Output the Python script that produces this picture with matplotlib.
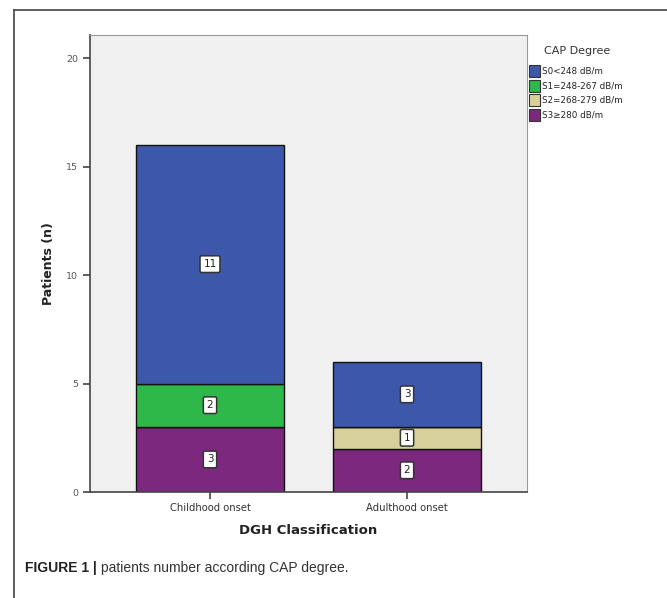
import matplotlib
matplotlib.use("Agg")
import matplotlib.pyplot as plt
from matplotlib.patches import Rectangle
from matplotlib.lines import Line2D

# ── data ─────────────────────────────────────────────────────────────────────
groups = ["Childhood onset", "Adulthood onset"]
degrees = ["S0<248 dB/m", "S1=248-267 dB/m", "S2=268-279 dB/m", "S3\u2265280 dB/m"]
s0 = [11, 3]
s1 = [2, 0]
s2 = [0, 1]
s3 = [3, 2]
yticks = [0, 5, 10, 15, 20]

# SPSS-like palette
COLORS = {"S0": "#3D58AB", "S1": "#2EB84A", "S2": "#D6D19A", "S3": "#7B287E"}
PLOT_BG = "#F0F0F0"
TXT = "#333333"

W, H = 667, 598
fig = plt.figure(figsize=(W / 100, H / 100), dpi=100)


def px(x, y):
    """pixel (from top-left) -> figure fraction"""
    return x / W, 1 - y / H


# outer frame (left + top)
fig.add_artist(Line2D([14 / W, 14 / W], [0, 1 - 10 / H], color="#444", lw=1.2))
fig.add_artist(Line2D([14 / W, 1], [1 - 10 / H, 1 - 10 / H], color="#444", lw=1.2))

# axes: plot area 90..527 x, 35..492 y
ax = fig.add_axes([90 / W, 1 - 492 / H, (527 - 90) / W, (492 - 35) / H])
ax.set_facecolor(PLOT_BG)

xs = list(range(len(groups)))
width = 0.75
stack = [("S3", s3), ("S2", s2), ("S1", s1), ("S0", s0)]
bottom = [0] * len(groups)
for key, vals in stack:
    ax.bar(xs, vals, width, bottom=bottom, color=COLORS[key],
           edgecolor="#111111", linewidth=1.0, zorder=2)
    for i, v in enumerate(vals):
        if v > 0:
            ax.text(xs[i], bottom[i] + v / 2, str(v), ha="center", va="center",
                    fontsize=7.5, color="#222", zorder=4,
                    bbox=dict(boxstyle="round,pad=0.32,rounding_size=0.15",
                              fc="white", ec="#333", lw=1.1))
    bottom = [b + v for b, v in zip(bottom, vals)]

ax.set_xlim(-0.609, 1.609)
ax.set_ylim(0, 21.06)
ax.set_yticks(yticks)
ax.set_xticks(xs)
ax.set_xticklabels(groups)
ax.tick_params(axis="both", direction="out", length=5, width=1.2,
               colors="#444", labelsize=6.8, labelcolor="#555")
ax.tick_params(axis="x", pad=3, labelcolor="#333", labelsize=7.2)
for side in ("left", "bottom"):
    ax.spines[side].set_color("#444")
    ax.spines[side].set_linewidth(1.2)
for side in ("top", "right"):
    ax.spines[side].set_color("#999")
    ax.spines[side].set_linewidth(0.8)

ax.set_ylabel("Patients (n)", fontsize=9, fontweight="bold", color="#222", labelpad=8)
ax.set_xlabel("DGH Classification", fontsize=9.5, fontweight="bold", color="#222", labelpad=8)

# legend (drawn by hand to match SPSS layout)
fig.text(*px(544, 51), "CAP Degree", fontsize=8, color=TXT, va="center", ha="left")
leg_keys = ["S0", "S1", "S2", "S3"]
for i, (key, label) in enumerate(zip(leg_keys, degrees)):
    yc = 71 + i * 14.7
    x0, y0 = px(529, yc + 6)
    fig.add_artist(Rectangle((x0, y0), 11 / W, 12 / H, transform=fig.transFigure,
                             fc=COLORS[key], ec="#333", lw=0.8))
    fig.text(*px(542, yc), label, fontsize=6.3, color="#222", va="center", ha="left")

# caption
t1 = fig.text(*px(25, 568), "FIGURE 1 |", fontsize=10, fontweight="bold",
              color="#222", va="center", ha="left", family="Liberation Sans")
fig.canvas.draw()
bb = t1.get_window_extent()
fig.text(bb.x1 / W + 4 / W, 1 - 568 / H, "patients number according CAP degree.",
         fontsize=10, color="#333", va="center", ha="left", family="Liberation Sans")

fig.savefig("out.png", dpi=100)
